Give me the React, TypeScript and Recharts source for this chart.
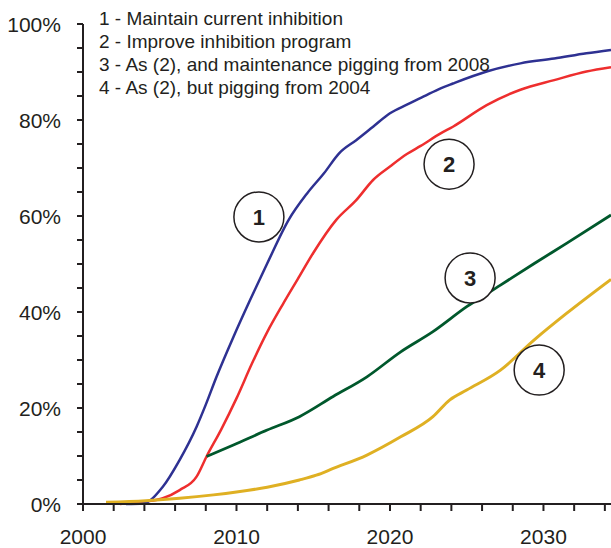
import React from 'react';
import { LineChart, Line, XAxis, YAxis, ReferenceDot } from 'recharts';

// curve 1 - maintain current inhibition
const blueYears = [2002.8, 2003.9, 2005.2, 2006.3, 2007.4, 2008.0, 2008.7, 2009.8, 2010.9, 2012.0, 2013.4, 2014.6, 2015.7, 2016.7, 2017.8, 2018.9, 2020.0, 2021.1, 2022.2, 2023.3, 2024.1, 2026.3, 2028.5, 2030.7, 2032.8, 2034.4];
const blueValues = [0, 0.1, 3.6, 9.2, 16.1, 20.7, 26.5, 34.8, 42.6, 50.1, 59.2, 64.7, 68.9, 73.1, 75.8, 78.6, 81.4, 83.2, 84.9, 86.6, 87.6, 90.1, 91.8, 92.8, 93.9, 94.6];

// curve 2 - improve inhibition program
const redYears = [2002.4, 2004.1, 2005.2, 2006.3, 2007.4, 2008.05, 2009.0, 2010.0, 2011.0, 2012.0, 2013.0, 2014.0, 2015.0, 2016.5, 2017.8, 2018.9, 2020.0, 2021.1, 2022.0, 2023.3, 2024.1, 2026.3, 2028.5, 2030.7, 2032.8, 2034.4];
const redValues = [0, 0.5, 1.2, 2.9, 5.7, 9.9, 15.5, 22.0, 29.2, 35.8, 41.5, 46.9, 52.3, 59.2, 63.3, 67.5, 70.3, 72.9, 74.6, 77.2, 78.6, 83.1, 86.3, 88.3, 90.1, 91.0];

// curve 3 - pigging from 2008
const greenYears = [2008.05, 2009.8, 2012.0, 2014.1, 2016.3, 2018.5, 2020.7, 2022.8, 2025.0, 2027.2, 2029.4, 2031.5, 2034.4];
const greenValues = [9.9, 12.3, 15.4, 18.2, 22.4, 26.5, 31.7, 35.9, 41.1, 45.6, 50.1, 54.3, 60.2];

// curve 4 - pigging from 2004
const yellowYears = [2001.5, 2004.1, 2006.3, 2008.5, 2010.0, 2012.0, 2014.1, 2015.2, 2016.3, 2018.5, 2020.7, 2022.8, 2023.9, 2025.0, 2027.2, 2029.4, 2031.5, 2034.4];
const yellowValues = [0.35, 0.7, 1.2, 1.9, 2.5, 3.5, 5.0, 6.0, 7.4, 10.2, 14.0, 18.2, 21.7, 23.75, 27.9, 34.2, 39.7, 46.8];

const legendLines = [
  '1 - Maintain current inhibition',
  '2 - Improve inhibition program',
  '3 - As (2), and maintenance pigging from 2008',
  '4 - As (2), but pigging from 2004',
];

const markerNames = ['1', '2', '3', '4'];
const markerYears = [2011.46, 2023.85, 2025.22, 2029.72];
const markerValues = [59.8, 70.8, 47.1, 27.9];

const xTicks = [2000, 2002, 2004, 2006, 2008, 2010, 2012, 2014, 2016, 2018, 2020, 2022, 2024, 2026, 2028, 2030, 2032, 2034];
const xMajorTicks = [2000, 2010, 2020, 2030];
const yTicks = [0, 5, 10, 15, 20, 25, 30, 35, 40, 45, 50, 55, 60, 65, 70, 75, 80, 85, 90, 95, 100];
const yMajorTicks = [0, 20, 40, 60, 80, 100];

const FONT = '"Liberation Sans", Arial, Helvetica, sans-serif';
const INK = '#231f20';
const axisStroke = { stroke: INK, strokeWidth: 2 };

const toPoints = (years: number[], values: number[]) =>
  years.map((year, i) => ({ year, value: values[i] }));

const XLabel = (props: any) => {
  const { x, y, payload } = props;
  if (payload.value % 10 !== 0) return <g />;
  return (
    <text x={x} y={y + 33} textAnchor="middle" fontSize={21} fill={INK} stroke="none" fontFamily={FONT}>
      {payload.value}
    </text>
  );
};

const YLabel = (props: any) => {
  const { x, y, payload } = props;
  if (payload.value % 20 !== 0) return <g />;
  return (
    <text x={x - 16} y={y + 7.5} textAnchor="end" fontSize={21} fill={INK} stroke="none" fontFamily={FONT}>
      {payload.value}%
    </text>
  );
};

const App: React.FC = () => {
  return (
    <div style={{ position: 'absolute', left: 0, top: 0, width: 611, height: 548, background: '#fff' }}>
      <LineChart width={611} height={548} margin={{ top: 24, right: 0, bottom: 0, left: 0 }}>
        {/* inner half of the major ticks */}
        <XAxis
          xAxisId="major"
          type="number"
          domain={[2000, 2034.4]}
          allowDataOverflow
          ticks={xMajorTicks}
          interval={0}
          tick={false}
          axisLine={false}
          tickLine={axisStroke}
          mirror
          stroke={INK}
          strokeWidth={2}
          tickSize={7}
          height={0}
        />
        <XAxis
          dataKey="year"
          type="number"
          domain={[2000, 2034.4]}
          allowDataOverflow
          ticks={xTicks}
          interval={0}
          tick={<XLabel />}
          axisLine={axisStroke}
          tickLine={axisStroke}
          stroke={INK}
          strokeWidth={2}
          tickSize={7}
          tickMargin={0}
          height={44}
        />
        <YAxis
          type="number"
          domain={[0, 100]}
          ticks={yTicks}
          interval={0}
          tick={<YLabel />}
          axisLine={axisStroke}
          tickLine={axisStroke}
          stroke={INK}
          strokeWidth={2}
          tickSize={6}
          tickMargin={0}
          width={83}
        />
        <YAxis
          yAxisId="major"
          type="number"
          domain={[0, 100]}
          ticks={yMajorTicks}
          interval={0}
          tick={false}
          axisLine={false}
          tickLine={axisStroke}
          mirror
          stroke={INK}
          strokeWidth={2}
          tickSize={7}
          width={0}
        />
        <Line data={toPoints(redYears, redValues)} dataKey="value" type="monotone" stroke="#ee2e2e" strokeWidth={2.5} dot={false} isAnimationActive={false} />
        <Line data={toPoints(blueYears, blueValues)} dataKey="value" type="monotone" stroke="#2e3192" strokeWidth={2.5} dot={false} isAnimationActive={false} />
        <Line data={toPoints(greenYears, greenValues)} dataKey="value" type="monotone" stroke="#00582c" strokeWidth={2.8} dot={false} isAnimationActive={false} />
        <Line data={toPoints(yellowYears, yellowValues)} dataKey="value" type="monotone" stroke="#dfb023" strokeWidth={3} dot={false} isAnimationActive={false} />
        {markerNames.map((name, i) => (
          <ReferenceDot
            key={name}
            x={markerYears[i]}
            y={markerValues[i]}
            r={25}
            fill="#fff"
            stroke={INK}
            strokeWidth={1.5}
            label={{ value: name, position: 'center', fontSize: 22, fontWeight: 'bold', fill: INK, fontFamily: FONT }}
          />
        ))}
      </LineChart>
      <div
        style={{
          position: 'absolute',
          left: 99,
          top: 7,
          fontFamily: FONT,
          fontSize: 19,
          lineHeight: '23px',
          color: INK,
          whiteSpace: 'nowrap',
        }}
      >
        {legendLines.map((t) => (
          <div key={t}>{t}</div>
        ))}
      </div>
    </div>
  );
};

export default App;
